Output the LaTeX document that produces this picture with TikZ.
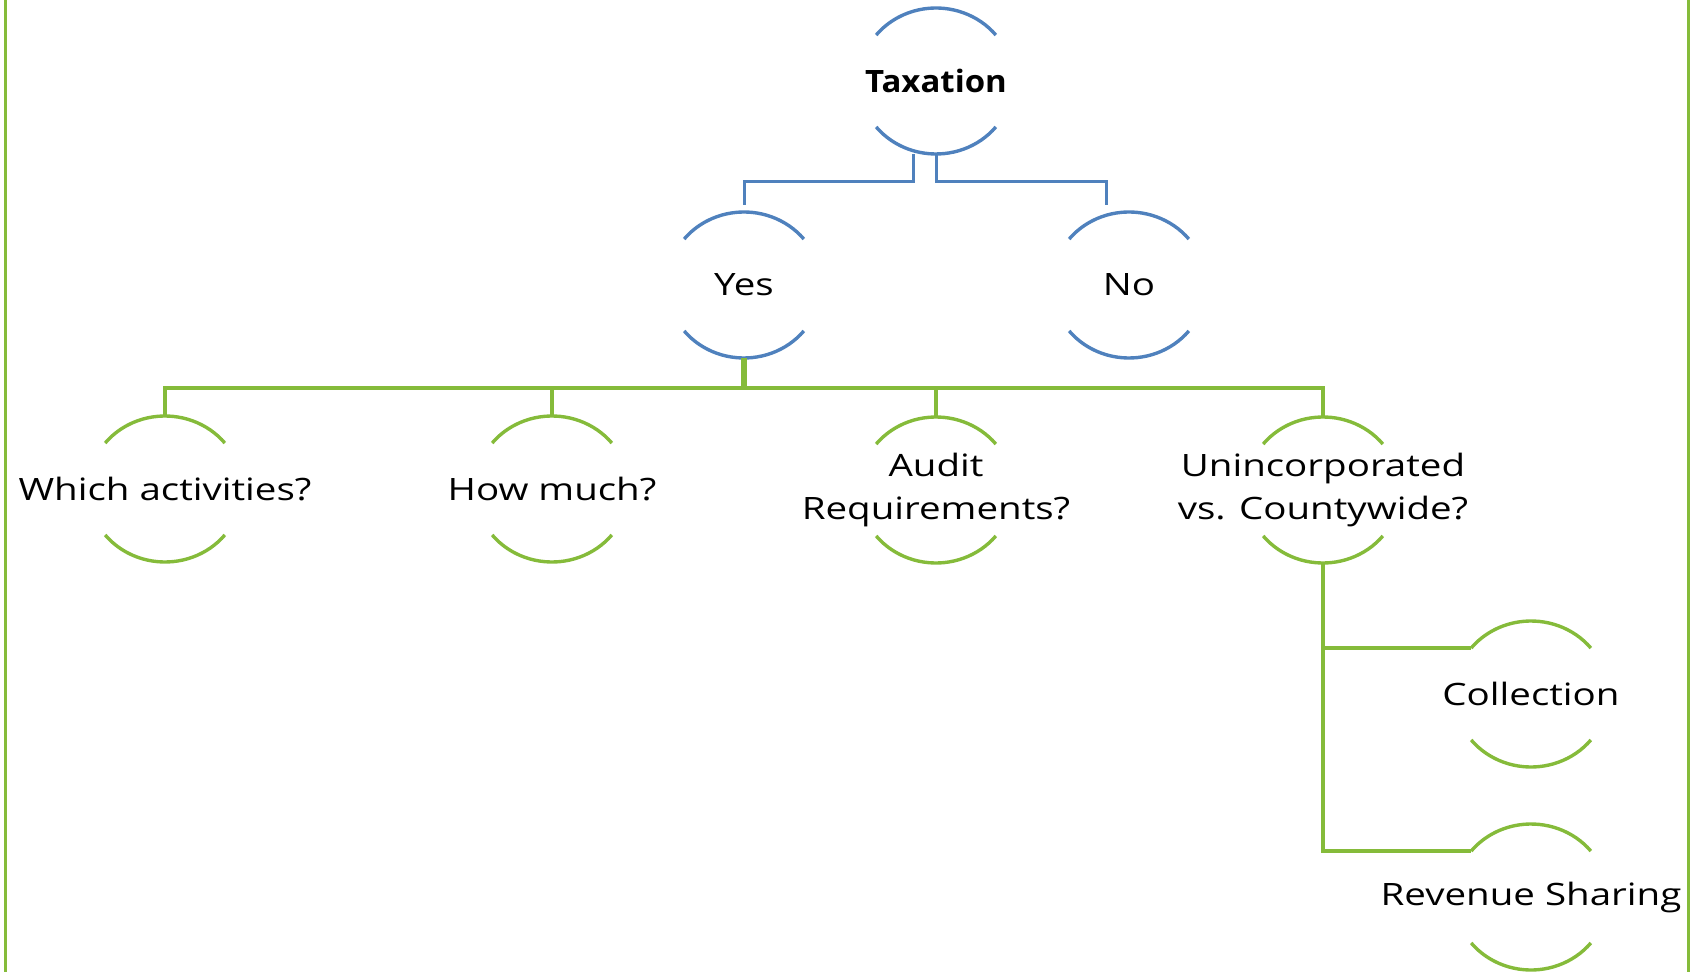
\documentclass[tikz,border=0pt]{standalone}
\usepackage{fontspec}
\setmainfont{Open Sans}
\newfontfamily\labelfont[FakeStretch=1.25]{Open Sans}
\newfontfamily\titlefont[FakeStretch=1.07]{Open Sans Bold}
\usetikzlibrary{calc}
\definecolor{hblue}{RGB}{79,129,189}
\definecolor{hgreen}{RGB}{133,187,58}
\tikzset{
  x=0.5pt, y=0.5pt,
  item/.style={shape=rectangle, inner sep=0pt, minimum width=77pt, minimum height=73pt,
    align=center, font=\labelfont\fontsize{15.4pt}{21.5pt}\selectfont, text=black},
  bluelink/.style={draw=hblue, line width=1.5pt},
  greenlink/.style={draw=hgreen, line width=2pt},
  frameline/.style={draw=hgreen, line width=1.5pt},
}
% the two half-circle arcs of a node
\newcommand{\halfarcs}[2]{%
  \draw[#2, line width=1.7pt] ($(#1.center)+(39:77 and 73)$) arc[start angle=39, end angle=141, x radius=77, y radius=73];
  \draw[#2, line width=1.7pt] ($(#1.center)+(-39:77 and 73)$) arc[start angle=-39, end angle=-141, x radius=77, y radius=73];
}
\begin{document}
\begin{tikzpicture}
\useasboundingbox (0,0) rectangle (1700,-972);
% side rules
\draw[frameline] (5,0) -- (5,-972);
\draw[frameline] (1688,0) -- (1688,-972);

% nodes
\node[item, font=\titlefont\fontsize{15.4pt}{21.5pt}\selectfont] (tax) at (936,-81) {Taxation};
\node[item] (yes) at (744,-285) {Yes};
\node[item] (no) at (1129,-285) {No};
\node[item] (act) at (165,-489) {Which activities?};
\node[item] (how) at (552,-489) {How much?};
\node[item] (aud) at (936,-490) {Audit\\Requirements?};
\node[item] (uni) at (1323,-490) {Unincorporated\\vs. Countywide?};
\node[item] (col) at (1531,-694) {Collection};
\node[item] (rev) at (1531,-897) {Revenue Sharing};

\halfarcs{tax}{hblue}
\halfarcs{yes}{hblue}
\halfarcs{no}{hblue}
\foreach \n in {act,how,aud,uni,col,rev}{\halfarcs{\n}{hgreen}}

% first level connectors
\draw[bluelink] ($(tax.south)+(-23,0)$) -- ++(0,-27) -| ($(yes.north)+(0,7)$);
\draw[bluelink] (tax.south) -- ++(0,-27) -| ($(no.north)+(-23,7)$);

% second level connectors
\coordinate (bus) at ($(yes.south)+(0,-30)$);
\draw[draw=hgreen, line width=2.6pt] (yes.south) -- (bus);
\draw[greenlink] (bus) -| (act.north);
\draw[greenlink] (bus) -| (how.north);
\draw[greenlink] (bus) -| (aud.north);
\draw[greenlink] (bus) -| (uni.north);

% third level connectors
\draw[greenlink] (uni.south) |- ($(col.center)+(141:77 and 73)$);
\draw[greenlink] (uni.south) |- ($(rev.center)+(141:77 and 73)$);
\end{tikzpicture}
\end{document}
